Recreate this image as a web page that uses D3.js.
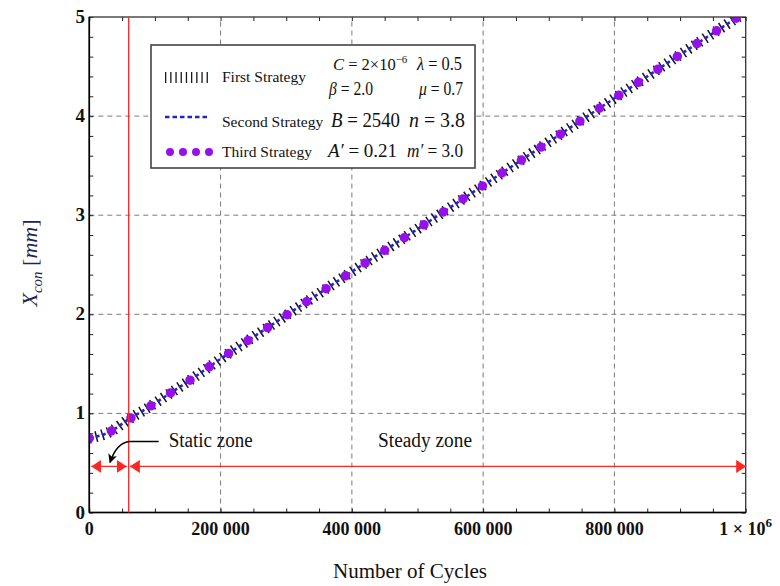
<!DOCTYPE html>
<html><head><meta charset="utf-8">
<script src="https://cdn.jsdelivr.net/npm/d3@7"></script>
<style>body{margin:0;background:#fff}svg{display:block}</style>
</head><body>
<svg id="c" width="780" height="586"></svg>
<script>
// ---------- data ----------
const cycles = [0, 30000, 60000, 90000, 120000, 150000, 200000, 300000, 400000, 500000, 600000, 700000, 800000, 900000, 1000000];
const firstStrategy  = [0.75, 0.81, 0.94, 1.06, 1.19, 1.32, 1.55, 1.99, 2.43, 2.86, 3.30, 3.74, 4.18, 4.62, 5.05];
const secondStrategy = [0.75, 0.81, 0.94, 1.06, 1.19, 1.32, 1.55, 1.99, 2.43, 2.86, 3.30, 3.74, 4.18, 4.62, 5.05];
const thirdStrategy  = [0.75, 0.81, 0.94, 1.06, 1.19, 1.32, 1.55, 1.99, 2.43, 2.86, 3.30, 3.74, 4.18, 4.62, 5.05];
const seriesNames = ["First Strategy", "Second Strategy", "Third Strategy"];
const xTicks = [0, 200000, 400000, 600000, 800000, 1000000];
const xTickLabels = ["0", "200 000", "400 000", "600 000", "800 000", "1 × 10^6"];
const yTicks = [0, 1, 2, 3, 4, 5];
const yTickLabels = ["0", "1", "2", "3", "4", "5"];
const staticEnd = 60000;     // end of static zone (cycles)
const zoneLevel = 0.465;     // height of zone arrows (mm)
const zoneLabels = ["Static zone", "Steady zone"];

// ---------- setup ----------
const svg = d3.select("#c");
const FONT = "'Liberation Serif','Times New Roman',serif";
const x = d3.scaleLinear().domain([0, 1000000]).range([89.3, 745.7]);
const y = d3.scaleLinear().domain([0, 5]).range([512.5, 17]);
const X0 = x(0), X1 = x(1000000), Y0 = y(0), Y1 = y(5);

svg.append("rect").attr("width", 780).attr("height", 586).attr("fill", "#fff");

// grid
const gGrid = svg.append("g").attr("stroke", "#7a7a7a").attr("stroke-width", 1).attr("stroke-dasharray", "5 4");
gGrid.selectAll("line.vx").data(xTicks.filter(d => d > 0 && d < 1000000)).join("line")
  .attr("x1", d => x(d)).attr("x2", d => x(d)).attr("y1", Y0).attr("y2", Y1);
gGrid.selectAll("line.hy").data(yTicks.filter(d => d > 0 && d < 5)).join("line")
  .attr("y1", d => y(d)).attr("y2", d => y(d)).attr("x1", X0).attr("x2", X1);

// minor/major ticks, all four sides, pointing inward
const xMinor = d3.range(0, 1000001, 50000);
const yMinor = d3.range(0, 26).map(i => i * 0.2);
function ticksAxes() {
  const g = svg.append("g");
  g.append("g").attr("transform", `translate(0,${Y0})`)
    .call(d3.axisBottom(x).tickValues(xMinor).tickSize(-4).tickFormat(""));
  g.append("g").attr("transform", `translate(0,${Y1})`)
    .call(d3.axisTop(x).tickValues(xMinor).tickSize(-4).tickFormat(""));
  g.append("g").attr("transform", `translate(${X0},0)`)
    .call(d3.axisLeft(y).tickValues(yMinor).tickSize(-4).tickFormat(""));
  g.append("g").attr("transform", `translate(${X1},0)`)
    .call(d3.axisRight(y).tickValues(yMinor).tickSize(-4).tickFormat(""));
  g.selectAll(".domain").remove();
  g.selectAll(".tick line").attr("stroke", "#222").attr("stroke-width", 1);
}
ticksAxes();

// clip
svg.append("clipPath").attr("id", "clip").append("rect")
  .attr("x", X0).attr("y", Y1).attr("width", X1 - X0).attr("height", Y0 - Y1);

const line = d3.line().curve(d3.curveMonotoneX);
const pts = vals => cycles.map((c, i) => [x(c), y(vals[i])]);
const gS = svg.append("g").attr("clip-path", "url(#clip)");
gS.append("path").attr("d", line(pts(firstStrategy))).attr("fill", "none")
  .attr("stroke", "#151515").attr("stroke-width", 11).attr("stroke-dasharray", "1.5 5");
gS.append("path").attr("d", line(pts(secondStrategy))).attr("fill", "none")
  .attr("stroke", "#2323c8").attr("stroke-width", 2.6).attr("stroke-dasharray", "4 2.5");
gS.append("path").attr("d", line(pts(thirdStrategy))).attr("fill", "none")
  .attr("stroke", "#9610ec").attr("stroke-width", 9.5).attr("stroke-linecap", "round")
  .attr("stroke-dasharray", "0 23.4").attr("stroke-dashoffset", -23.4);

// frame
svg.append("rect").attr("x", X0).attr("y", Y1).attr("width", X1 - X0).attr("height", Y0 - Y1)
  .attr("fill", "none").attr("stroke", "#333").attr("stroke-width", 1.3);
svg.append("line").attr("x1", X0).attr("x2", X1).attr("y1", Y0).attr("y2", Y0).attr("stroke", "#000").attr("stroke-width", 1.6);
svg.append("line").attr("x1", X0).attr("x2", X0).attr("y1", Y0).attr("y2", Y1).attr("stroke", "#000").attr("stroke-width", 1.6);

// red zone lines
const RED = "#ff2626";
const defs = svg.append("defs");
defs.append("marker").attr("id", "arr").attr("viewBox", "0 0 10 13").attr("refX", 10).attr("refY", 6.5)
  .attr("markerWidth", 10).attr("markerHeight", 13).attr("markerUnits", "userSpaceOnUse")
  .attr("orient", "auto-start-reverse")
  .append("path").attr("d", "M0,0 L10,6.5 L0,13 Z").attr("fill", RED);
svg.append("line").attr("x1", x(staticEnd)).attr("x2", x(staticEnd)).attr("y1", Y1).attr("y2", Y0)
  .attr("stroke", RED).attr("stroke-width", 1.3);
const zy = y(zoneLevel);
svg.append("line").attr("x1", X0 + 2).attr("x2", x(staticEnd) - 1.8).attr("y1", zy).attr("y2", zy)
  .attr("stroke", RED).attr("stroke-width", 1.4).attr("marker-start", "url(#arr)").attr("marker-end", "url(#arr)");
svg.append("line").attr("x1", x(staticEnd) + 1.2).attr("x2", X1 + 0.5).attr("y1", zy).attr("y2", zy)
  .attr("stroke", RED).attr("stroke-width", 1.4).attr("marker-start", "url(#arr)").attr("marker-end", "url(#arr)");

// static zone annotation arrow
defs.append("marker").attr("id", "blk").attr("viewBox", "0 0 10 10").attr("refX", 9).attr("refY", 5)
  .attr("markerWidth", 9).attr("markerHeight", 9).attr("markerUnits", "userSpaceOnUse").attr("orient", "auto")
  .append("path").attr("d", "M0,0 L10,5 L0,10 L2.5,5 Z").attr("fill", "#000");
const sx = x(staticEnd);
svg.append("path")
  .attr("d", `M${sx + 30},${zy - 25} L${sx + 1},${zy - 25} Q${sx - 12},${zy - 24} ${x(staticEnd / 2) + 1},${zy - 4}`)
  .attr("fill", "none").attr("stroke", "#000").attr("stroke-width", 1.5).attr("marker-end", "url(#blk)");
svg.append("text").attr("x", sx + 40).attr("y", zy - 19).attr("font-family", FONT).attr("font-size", 20)
  .attr("textLength", 84).attr("lengthAdjust", "spacingAndGlyphs").attr("fill", "#111").text(zoneLabels[0]);
svg.append("text").attr("x", 378).attr("y", zy - 19).attr("font-family", FONT).attr("font-size", 20)
  .attr("textLength", 94).attr("lengthAdjust", "spacingAndGlyphs").attr("fill", "#111").text(zoneLabels[1]);

// tick labels
const gxl = svg.append("g").attr("font-family", FONT).attr("font-weight", "bold").attr("font-size", 18).attr("fill", "#111");
xTicks.forEach((t, i) => {
  const lab = xTickLabels[i];
  const tx = gxl.append("text").attr("x", x(t)).attr("y", 535).attr("text-anchor", "middle");
  if (lab.includes("^")) {
    const [b, e] = lab.split("^");
    tx.append("tspan").text(b);
    tx.append("tspan").attr("dy", -8).attr("font-size", 13).text(e);
  } else tx.text(lab);
});
const gyl = svg.append("g").attr("font-family", FONT).attr("font-weight", "bold").attr("font-size", 19).attr("fill", "#111");
yTicks.forEach((t, i) => {
  gyl.append("text").attr("x", 85).attr("y", y(t) + 6).attr("text-anchor", "end").text(yTickLabels[i]);
});

// axis titles
svg.append("text").attr("x", 410).attr("y", 578).attr("text-anchor", "middle").attr("font-family", FONT)
  .attr("font-size", 21).attr("fill", "#111").text("Number of Cycles");
const yl = svg.append("text").attr("transform", "translate(37,263) rotate(-90)").attr("text-anchor", "middle")
  .attr("font-family", FONT).attr("font-size", 22).attr("fill", "#1b2550");
yl.append("tspan").attr("font-style", "italic").text("X");
yl.append("tspan").attr("font-style", "italic").attr("font-size", 15).attr("dy", 5).text("con");
yl.append("tspan").attr("dy", -5).text(" [");
yl.append("tspan").attr("font-style", "italic").text("mm");
yl.append("tspan").text("]");

// legend
const lg = svg.append("g");
lg.append("rect").attr("x", 151).attr("y", 45).attr("width", 324).attr("height", 123)
  .attr("fill", "#fff").attr("stroke", "#444").attr("stroke-width", 1.6);
lg.append("line").attr("x1", 165).attr("x2", 209).attr("y1", 77.5).attr("y2", 77.5)
  .attr("stroke", "#1a1a1a").attr("stroke-width", 11).attr("stroke-dasharray", "1.3 3.9");
lg.append("line").attr("x1", 165).attr("x2", 210).attr("y1", 117).attr("y2", 117)
  .attr("stroke", "#2323c8").attr("stroke-width", 2.6).attr("stroke-dasharray", "4.5 3");
lg.append("line").attr("x1", 170).attr("x2", 210).attr("y1", 152).attr("y2", 152)
  .attr("stroke", "#9610ec").attr("stroke-width", 8).attr("stroke-linecap", "round").attr("stroke-dasharray", "0 13");
const nameY = [82, 127, 157];
seriesNames.forEach((n, i) => {
  lg.append("text").attr("x", 222).attr("y", nameY[i]).attr("font-family", FONT).attr("font-size", 15.5)
    .attr("fill", "#111").text(n);
});
function param(xp, yp, size, parts, w) {
  const t = lg.append("text").attr("x", xp).attr("y", yp).attr("font-family", FONT).attr("font-size", size).attr("fill", "#111");
  if (w) t.attr("textLength", w).attr("lengthAdjust", "spacingAndGlyphs");
  parts.forEach(p => {
    const s = t.append("tspan").text(p.t);
    if (p.i) s.attr("font-style", "italic");
    if (p.dy) s.attr("dy", p.dy);
    if (p.s) s.attr("font-size", p.s);
  });
}
param(333, 70, 16.5, [{t: "C", i: 1}, {t: " = 2×10"}, {t: "−6", dy: -7, s: 11}]);
param(417, 70, 18, [{t: "λ", i: 1}, {t: " = 0.5"}], 45);
param(329, 95, 18, [{t: "β", i: 1}, {t: " = 2.0"}], 44);
param(419, 95, 18, [{t: "μ", i: 1}, {t: " = 0.7"}], 44);
param(331, 127, 21, [{t: "B", i: 1}, {t: " = 2540"}], 69);
param(409, 127, 21, [{t: "n", i: 1}, {t: " = 3.8"}], 56);
param(328, 157, 19, [{t: "A′", i: 1}, {t: " = 0.21"}], 69);
param(407, 157, 19, [{t: "m′", i: 1}, {t: " = 3.0"}], 56);
</script>
</body></html>
